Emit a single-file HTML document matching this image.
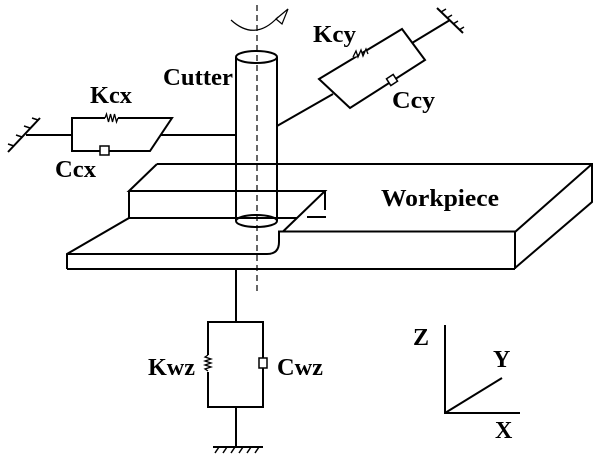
<!DOCTYPE html>
<html><head><meta charset="utf-8"><style>
html,body{margin:0;padding:0;background:#fff;}
svg{display:block;}
text{font-family:"Liberation Serif",serif;font-weight:bold;font-size:24px;fill:#000;}
</style></head><body>
<svg width="600" height="460" viewBox="0 0 600 460" xmlns="http://www.w3.org/2000/svg">
<g fill="none" stroke="#000" stroke-width="2" stroke-linejoin="miter">
<!-- dashed axis -->
<line x1="257" y1="5" x2="257" y2="293" stroke-width="1.2" stroke-dasharray="6,4"/>
<!-- rotation arrow -->
<path d="M231,20 Q255,42 278,17" stroke-width="1.2"/>
<path d="M276,19 L288,9 L282,24 Z" stroke-width="1.2"/>
<!-- cutter -->
<line x1="236" y1="57" x2="236" y2="221"/>
<line x1="277" y1="57" x2="277" y2="221"/>
<ellipse cx="256.5" cy="57" rx="20.5" ry="6"/>
<ellipse cx="256.5" cy="221" rx="20.5" ry="6"/>
<!-- Kcx system -->
<line x1="8" y1="152" x2="40" y2="118"/>
<path d="M14,146 l-6,-2 M22,137 l-6,-2 M30,128 l-6,-2 M38,120 l-6,-2" stroke-width="1.5"/>
<line x1="26" y1="135" x2="72" y2="135"/>
<path d="M105,118 L72,118 L72,151 L100,151 M110,151 L150,151 L172,118 L118,118"/>
<path d="M105,118 l1.5,-4 l2,8 l2,-8 l2,8 l2,-8 l2,8 l1.5,-4" stroke-width="1.3"/>
<rect x="100" y="146" width="9" height="9" stroke-width="1.5"/>
<line x1="109" y1="151" x2="112" y2="151"/>
<line x1="161" y1="135" x2="236" y2="135"/>
<!-- Kcy system -->
<line x1="277" y1="126" x2="333" y2="94"/>
<path d="M319,79 L402,29 L425,60 L350,108 Z"/>
<path d="M356,55 l2,-6 l1,7 l3,-6 l1,7 l3,-6 l1,7" stroke="#fff" stroke-width="0"/>
<rect x="388" y="76" width="8" height="8" transform="rotate(-33 392 80)" fill="#fff" stroke-width="1.5"/>
<path d="M353,57 l3,-6 l2,6 l3,-7 l2,6 l3,-7 l2,5" stroke-width="1.3" fill="#fff"/>
<line x1="412" y1="43" x2="450" y2="20"/>
<line x1="437" y1="8" x2="463" y2="33"/>
<path d="M441,12 l5,-3 M447,18 l5,-3 M453,24 l5,-3 M459,30 l5,-3" stroke-width="1.5"/>
<!-- workpiece main block -->
<path d="M157,164 L592,164 L592,202 L515,268"/>
<path d="M592,164 L515,232 L515,269"/>
<line x1="283" y1="231.5" x2="515" y2="231.5"/>
<line x1="67" y1="269" x2="515" y2="269"/>
<!-- step -->
<path d="M157,164 L129,191 L325,191 L283,231.5"/>
<path d="M129,191 L129,218 L297,218"/>
<line x1="325" y1="191" x2="325" y2="210"/>
<line x1="307" y1="217" x2="326" y2="217"/>
<!-- lower plate -->
<path d="M129,218 L67,254 L67,269"/>
<path d="M67,254 L267,254 Q279,254 279,242 L279,231.5 L283,231.5"/>
<!-- support -->
<line x1="236" y1="269" x2="236" y2="322"/>
<path d="M236,322 L208,322 L208,355 M208,372 L208,407 L263,407 L263,372 M263,358 L263,322 L236,322"/>
<path d="M208,355 l-3,2 l6,2 l-6,2 l6,2 l-6,2 l6,2 l-6,2 l3,2" stroke-width="1.3"/>
<rect x="259" y="358" width="8" height="10" stroke-width="1.5"/>
<line x1="263" y1="368" x2="263" y2="372"/>
<line x1="236" y1="407" x2="236" y2="447"/>
<line x1="213" y1="447" x2="263" y2="447"/>
<path d="M219,447 l-4,6 M227,447 l-4,6 M235,447 l-4,6 M243,447 l-4,6 M251,447 l-4,6 M259,447 l-4,6" stroke-width="1.5"/>
<!-- axes -->
<path d="M445,325 L445,413 L520,413 M445,413 L502,378"/>
</g>
<text x="163" y="85" textLength="70" lengthAdjust="spacingAndGlyphs">Cutter</text>
<text x="90" y="103" textLength="42" lengthAdjust="spacingAndGlyphs">Kcx</text>
<text x="55" y="177" textLength="41" lengthAdjust="spacingAndGlyphs">Ccx</text>
<text x="313" y="42" textLength="43" lengthAdjust="spacingAndGlyphs">Kcy</text>
<text x="392" y="108" textLength="43" lengthAdjust="spacingAndGlyphs">Ccy</text>
<text x="381" y="206" textLength="118" lengthAdjust="spacingAndGlyphs">Workpiece</text>
<text x="148" y="375" textLength="47" lengthAdjust="spacingAndGlyphs">Kwz</text>
<text x="277" y="375" textLength="46" lengthAdjust="spacingAndGlyphs">Cwz</text>
<text x="413" y="345">Z</text>
<text x="493" y="367">Y</text>
<text x="495" y="438">X</text>
</svg>
</body></html>
